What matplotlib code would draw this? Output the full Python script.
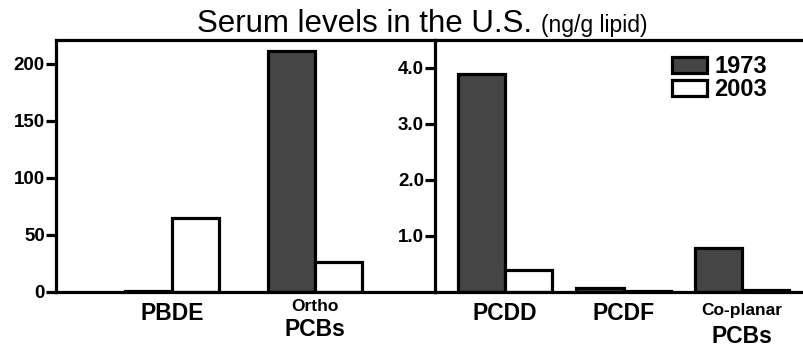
import numpy as np
import matplotlib.pyplot as plt

plt.rcParams['font.family'] = ['Liberation Sans', 'DejaVu Sans']

# --- data ---
years = ['1973', '2003']
left_cats = ['PBDE', 'PCBs']
left_sub = ['', 'Ortho']
left_1973 = [1, 211]
left_2003 = [65, 26]

right_cats = ['PCDD', 'PCDF', 'PCBs']
right_sub = ['', '', 'Co-planar']
right_1973 = [3.9, 0.08, 0.79]
right_2003 = [0.39, 0.02, 0.03]

dark = '#454545'
lw = 2.3

fig = plt.figure(figsize=(8.04, 3.5), dpi=100)
fig.patch.set_facecolor('white')

bot = 1 - 292 / 350
h = (292 - 40) / 350
axL = fig.add_axes([56 / 804, bot, (435 - 56) / 804, h])
axR = fig.add_axes([435 / 804, bot, (804 - 435) / 804, h])


def draw(ax, cats, subs, v73, v03, w, xlim, ylim, yticks, ylabels, ysub, ymain):
    x = np.arange(len(cats))
    b1 = ax.bar(x - w / 2, v73, w, color=dark, edgecolor='black', linewidth=lw, label=years[0])
    b2 = ax.bar(x + w / 2, v03, w, color='white', edgecolor='black', linewidth=lw, label=years[1])
    ax.set_xlim(*xlim)
    ax.set_ylim(*ylim)
    ax.set_yticks(yticks)
    ax.set_yticklabels(ylabels, fontsize=13.5, fontweight='bold')
    ax.tick_params(axis='y', width=lw, length=7, pad=1)
    ax.set_xticks([])
    for s in ['left', 'top', 'bottom']:
        ax.spines[s].set_linewidth(lw)
    ax.spines['right'].set_visible(False)
    tr = ax.get_xaxis_transform()
    for xi, c, s in zip(x, cats, subs):
        if s:
            ax.text(xi, ysub, s, transform=tr, ha='center', va='center',
                    fontsize=12.5, fontweight='bold')
            ax.text(xi, ymain, c, transform=tr, ha='center', va='center',
                    fontsize=16.5, fontweight='bold')
        else:
            ax.text(xi, -0.085, c, transform=tr, ha='center', va='center',
                    fontsize=16.5, fontweight='bold')
    ax.set_facecolor('none')
    return b1, b2


draw(axL, left_cats, left_sub, left_1973, left_2003, 0.332,
     (-0.811, 1.839), (0, 221), [0, 50, 100, 150, 200], ['0', '50', '100', '150', '200'],
     -0.056, -0.147)
b1, b2 = draw(axR, right_cats, right_sub, right_1973, right_2003, 0.40,
              (-0.591, 2.523), (0, 4.5), [1, 2, 3, 4], ['1.0', '2.0', '3.0', '4.0'],
              -0.075, -0.175)

axR.legend(handles=[b1, b2], loc='upper left', bbox_to_anchor=(672 / 804, 1 - 55 / 350),
           bbox_transform=fig.transFigure, frameon=False,
           prop={'weight': 'bold', 'size': 17}, handlelength=1.5, handleheight=0.65,
           handletextpad=0.3, labelspacing=0.0, borderpad=0, borderaxespad=0)

fig.text(197 / 804, 1 - 32 / 350, 'Serum levels in the U.S.', fontsize=22.5, ha='left', va='baseline')
fig.text(541 / 804, 1 - 32 / 350, '(ng/g lipid)', fontsize=16.5, ha='left', va='baseline')

fig.savefig('out.png', dpi=100)
